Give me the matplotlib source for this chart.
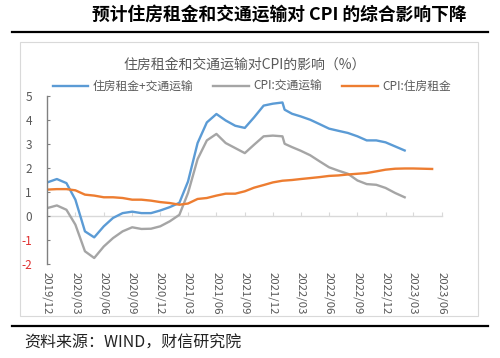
import matplotlib
matplotlib.use('Agg')
import matplotlib.pyplot as plt
import matplotlib.dates as mdates
from matplotlib.lines import Line2D
from matplotlib.patches import Rectangle
import pandas as pd

plt.rcParams['font.family'] = ['Noto Sans CJK SC', 'DejaVu Sans']
plt.rcParams['axes.unicode_minus'] = False

# data
months = pd.date_range('2019-12-01', '2023-05-01', freq='MS')
# blue / gray series have an extra point just after 2022/01 (step down)
combo_dates = list(months[:26]) + [pd.Timestamp('2022-01-08')] + list(months[26:39])

total = [1.40, 1.54, 1.37, 0.68, -0.64, -0.89, -0.43, -0.08, 0.12, 0.18,
         0.12, 0.12, 0.23, 0.37, 0.55, 1.44, 3.04, 3.90, 4.25, 3.98,
         3.76, 3.67, 4.11, 4.60, 4.68, 4.73, 4.43, 4.26, 4.15, 4.01,
         3.83, 3.64, 3.55, 3.46, 3.32, 3.15, 3.15, 3.07, 2.90, 2.73]
transport = [0.33, 0.44, 0.26, -0.36, -1.47, -1.75, -1.27, -0.92, -0.64, -0.47,
             -0.54, -0.53, -0.43, -0.22, 0.05, 0.96, 2.37, 3.15, 3.42, 3.04,
             2.83, 2.62, 2.97, 3.32, 3.35, 3.32, 3.01, 2.87, 2.72, 2.53,
             2.28, 2.03, 1.89, 1.76, 1.48, 1.33, 1.30, 1.17, 0.96, 0.78]
rent = [1.10, 1.12, 1.12, 1.07, 0.89, 0.85, 0.78, 0.78, 0.75, 0.68,
        0.68, 0.64, 0.58, 0.54, 0.47, 0.52, 0.71, 0.75, 0.85, 0.93,
        0.93, 1.03, 1.18, 1.29, 1.40, 1.47, 1.50, 1.54, 1.58, 1.62,
        1.67, 1.69, 1.73, 1.76, 1.79, 1.86, 1.93, 1.97, 1.98, 1.98,
        1.97, 1.96]

labels = ['住房租金+交通运输', 'CPI:交通运输', 'CPI:住房租金']
colors = ['#5B9BD5', '#A5A5A5', '#ED7D31']
text_gray = '#595959'

W, H = 500, 358
fig = plt.figure(figsize=(W / 100, H / 100), dpi=100)

# page header / footer
fig.text(0.558, 1 - 15 / H, '预计住房租金和交通运输对 CPI 的综合影响下降',
         ha='center', va='center', fontsize=12.8, fontweight='bold', color='black')
fig.add_artist(Line2D([12 / W, 488 / W], [1 - 32 / H] * 2, color='black', lw=1.6))
fig.add_artist(Line2D([12 / W, 488 / W], [1 - 326 / H] * 2, color='black', lw=1.6))
fig.text(24 / W, 1 - 343 / H, '资料来源：WIND，财信研究院', ha='left', va='center',
         fontsize=11.5, color='#222222', style='italic')

# chart frame
fig.add_artist(Rectangle((20 / W, 1 - 316 / H), 458 / W, 274 / H, transform=fig.transFigure,
                         fill=False, edgecolor='#D9D9D9', lw=0.8))
fig.text(245 / W, 1 - 65 / H, '住房租金和交通运输对CPI的影响（%）', ha='center', va='center',
         fontsize=10, color=text_gray)

ax = fig.add_axes([47.3 / W, 1 - 264 / H, (441.7 - 47.3) / W, (264 - 96) / H])
ax.plot(combo_dates, total, color=colors[0], lw=1.7, label=labels[0])
ax.plot(combo_dates, transport, color=colors[1], lw=1.7, label=labels[1])
ax.plot(months, rent, color=colors[2], lw=1.7, label=labels[2])

ax.set_ylim(-2, 5)
ax.set_yticks(range(-2, 6))
ax.set_xlim(pd.Timestamp('2019-12-01'), pd.Timestamp('2023-06-01'))
ax.xaxis.set_major_locator(mdates.MonthLocator(bymonth=[3, 6, 9, 12]))
ax.xaxis.set_major_formatter(mdates.DateFormatter('%Y/%m'))

for s in ['top', 'right', 'bottom']:
    ax.spines[s].set_visible(False)
ax.spines['left'].set_color('#808080')
ax.spines['left'].set_linewidth(1.0)
ax.tick_params(axis='y', direction='in', length=2.5, color='#808080', pad=11,
               labelsize=8.5, labelcolor=text_gray)
for t in ax.get_yticklabels():
    if t.get_text().startswith('-'):
        t.set_color('#E03030')
ax.tick_params(axis='x', length=0, pad=6, labelsize=8.2, labelcolor=text_gray,
               labelrotation=-90)

# zero line with small upward ticks
zero = ax.secondary_xaxis(2 / 7)
zero.xaxis.set_major_locator(mdates.MonthLocator(bymonth=[3, 6, 9, 12]))
zero.spines['bottom'].set_color('#D9D9D9')
zero.spines['bottom'].set_linewidth(1.0)
zero.tick_params(axis='x', direction='in', length=3, color='#D9D9D9', labelbottom=False)

ax.legend(loc='center', bbox_to_anchor=(252 / W, 1 - 86.7 / H), bbox_transform=fig.transFigure,
          ncol=3, frameon=False, fontsize=8.5, handlelength=3.0, handletextpad=0.4,
          columnspacing=1.7, labelcolor=text_gray)

fig.savefig('out.png', dpi=100)
